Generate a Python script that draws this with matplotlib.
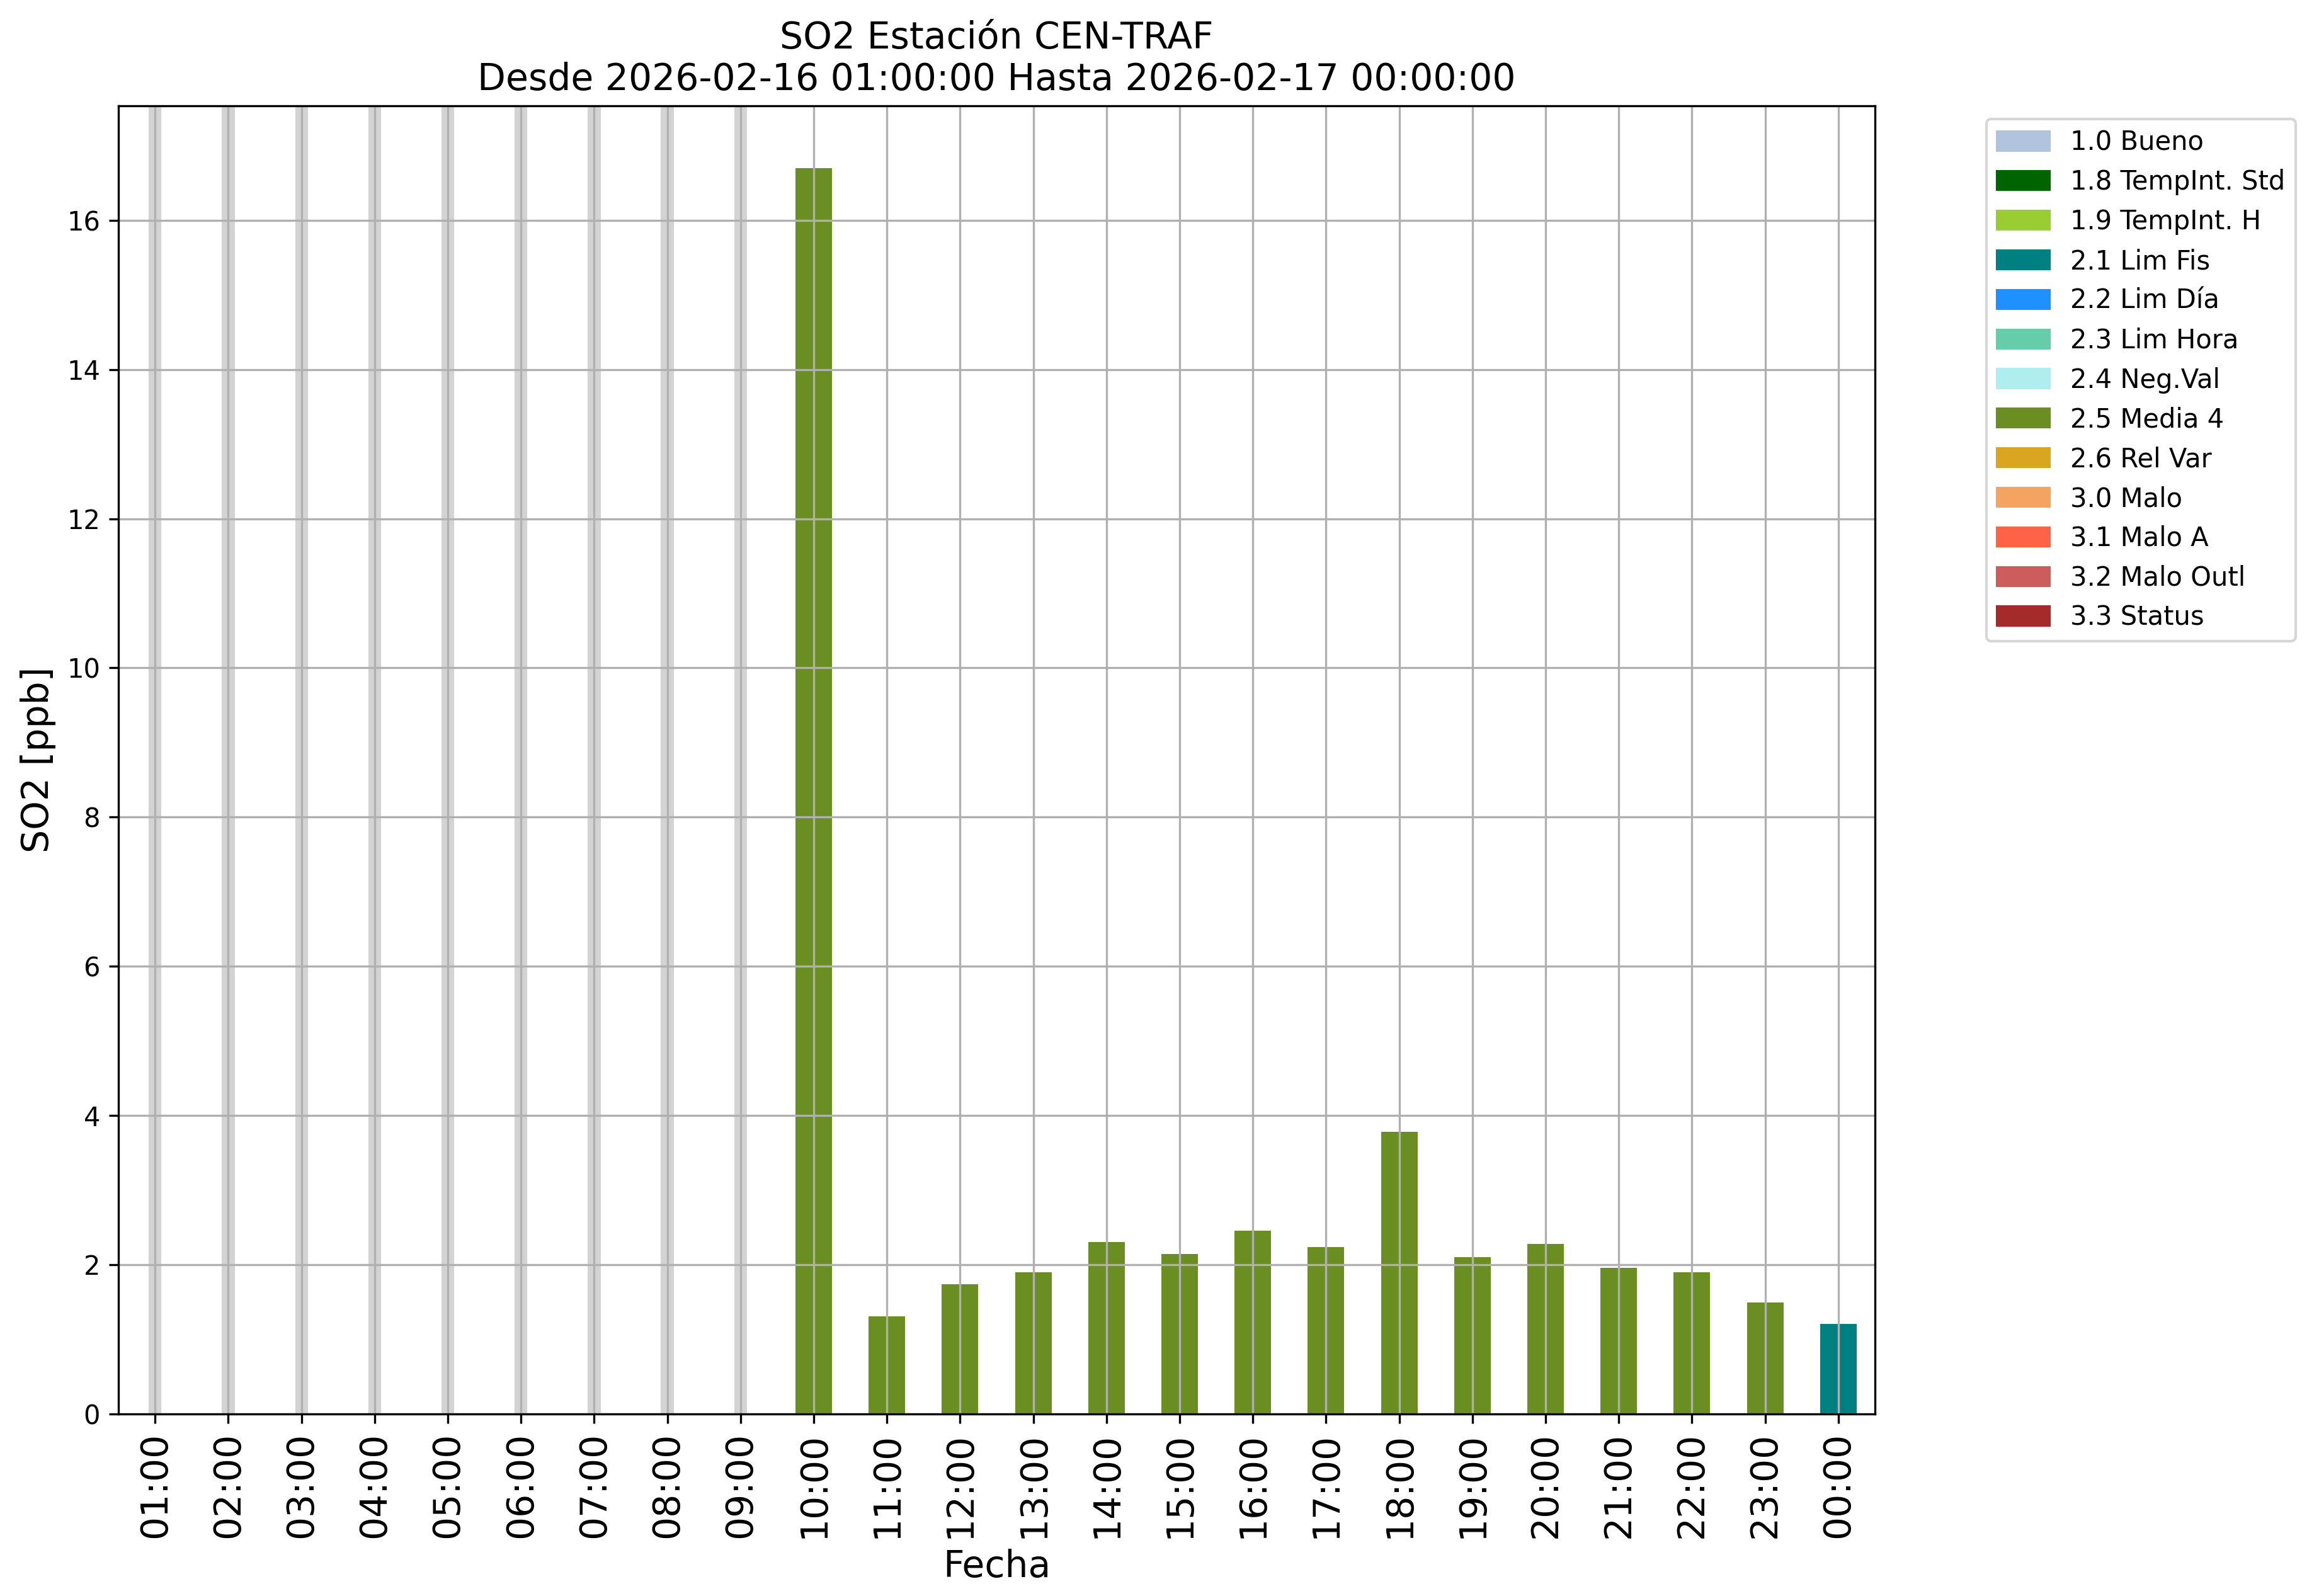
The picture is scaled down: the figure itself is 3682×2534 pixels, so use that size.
import matplotlib

matplotlib.use("Agg")
import matplotlib.pyplot as plt  # noqa: E402
import matplotlib.patches as mpatches  # noqa: E402
import numpy as np  # noqa: E402

# datos
horas = ["01:00", "02:00", "03:00", "04:00", "05:00", "06:00", "07:00", "08:00",
         "09:00", "10:00", "11:00", "12:00", "13:00", "14:00", "15:00", "16:00",
         "17:00", "18:00", "19:00", "20:00", "21:00", "22:00", "23:00", "00:00"]
so2 = [np.nan] * 9 + [16.7, 1.31, 1.74, 1.90, 2.30, 2.14, 2.46, 2.24, 3.78,
                      2.10, 2.28, 1.96, 1.90, 1.49, 1.21]
flags = [None] * 9 + ["2.5"] * 14 + ["2.1"]

flag_labels = ["1.0 Bueno", "1.8 TempInt. Std", "1.9 TempInt. H", "2.1 Lim Fis",
               "2.2 Lim Día", "2.3 Lim Hora", "2.4 Neg.Val", "2.5 Media 4",
               "2.6 Rel Var", "3.0 Malo", "3.1 Malo A", "3.2 Malo Outl", "3.3 Status"]
flag_colors = ["lightsteelblue", "darkgreen", "yellowgreen", "teal", "dodgerblue",
               "mediumaquamarine", "paleturquoise", "olivedrab", "goldenrod",
               "sandybrown", "tomato", "indianred", "brown"]
color_map = {lab.split()[0]: c for lab, c in zip(flag_labels, flag_colors)}

fig = plt.figure(figsize=(3682 / 300, 2534 / 300), dpi=300)
ax = fig.add_axes([0.0511, 0.1141, 0.8085 - 0.0511, 0.9337 - 0.1141])

x = np.arange(len(horas))
vals = np.array(so2, dtype=float)
colores = [color_map[f] if f else "lightgray" for f in flags]
ax.bar(x, np.nan_to_num(vals), width=0.5, color=colores)

# horas sin dato
for i in x[np.isnan(vals)]:
    ax.axvspan(i - 0.07, i + 0.07, color="lightgray", zorder=1)

ax.set_xlim(-0.5, len(horas) - 0.5)
ax.set_ylim(0, np.nanmax(vals) * 1.05)
ax.set_xticks(x)
ax.set_xticklabels(horas, rotation=90, fontsize=14)
ax.tick_params(axis="y", labelsize=10)
ax.set_xlabel("Fecha", fontsize=14)
ax.set_ylabel("SO2 [ppb]", fontsize=14)
ax.set_title("SO2 Estación CEN-TRAF\nDesde 2026-02-16 01:00:00 Hasta 2026-02-17 00:00:00",
             fontsize=14)
ax.grid(True)

handles = [mpatches.Patch(color=c, label=lab) for lab, c in zip(flag_labels, flag_colors)]
ax.legend(handles=handles, bbox_to_anchor=(1.056, 1), loc="upper left", fontsize=10)

fig.savefig("out.png", dpi=300)
plt.close(fig)
